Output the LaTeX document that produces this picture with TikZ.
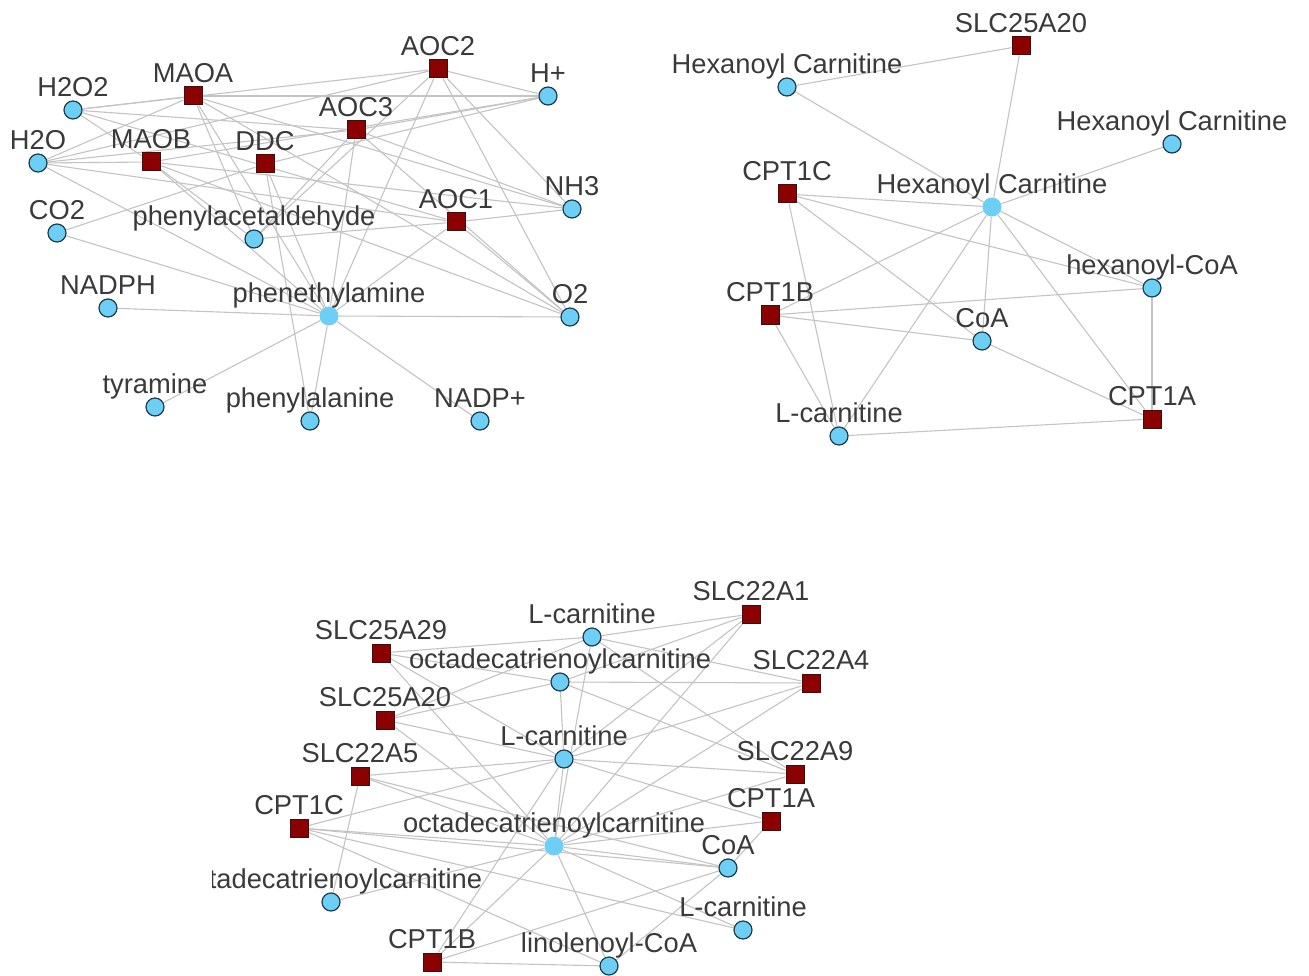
\documentclass[tikz,border=0pt]{standalone}
\usepackage{fontspec}
\setmainfont{Liberation Sans}
\usetikzlibrary{backgrounds}
\definecolor{metfill}{HTML}{6DCFF6}
\definecolor{metdraw}{HTML}{1E3C4C}
\definecolor{genefill}{HTML}{8B0000}
\definecolor{genedraw}{HTML}{3A1010}
\definecolor{edgecol}{HTML}{C4C4C4}
\definecolor{txtcol}{HTML}{3A3A3A}
\tikzset{
  met/.style={circle,fill=metfill,draw=metdraw,line width=1.2pt,minimum size=18pt,inner sep=0pt},
  hub/.style={circle,fill=metfill,minimum size=19pt,inner sep=0pt},
  gene/.style={rectangle,fill=genefill,draw=genedraw,line width=1pt,minimum size=18pt,inner sep=0pt},
  lbl/.style={anchor=base,inner sep=0pt,text=txtcol,font=\fontsize{27.3}{30}\selectfont},
  edge/.style={draw=edgecol,line width=1.1pt}
}
\newcommand{\mnode}[5]{\node[#1] (#2) at (#3pt,-#4pt) {};\node[lbl] (#2l) at ([yshift=13.5pt]#2.center) {#5};}
\begin{document}
\begin{tikzpicture}[x=1pt,y=1pt]
\useasboundingbox (0,0) rectangle (1309,-976);
% ---------- cluster 1 ----------
\mnode{met}{h2o2}{73}{110}{H2O2}
\mnode{gene}{maoa}{193}{96}{MAOA}
\mnode{gene}{aoc2}{438}{69}{AOC2}
\mnode{met}{hp}{548}{96}{H+}
\mnode{gene}{aoc3}{356}{130}{AOC3}
\mnode{met}{h2o}{38}{163}{H2O}
\mnode{gene}{maob}{151}{162}{MAOB}
\mnode{gene}{ddc}{265}{164}{DDC}
\mnode{met}{nh3}{572}{209}{NH3}
\mnode{met}{co2}{57}{233}{CO2}
\mnode{met}{pal}{254}{239}{phenylacetaldehyde}
\mnode{gene}{aoc1}{456}{222}{AOC1}
\mnode{met}{nadph}{108}{308}{NADPH}
\mnode{hub}{pea}{329}{316}{phenethylamine}
\mnode{met}{o2}{570}{317}{O2}
\mnode{met}{tyr}{155}{407}{tyramine}
\mnode{met}{phe}{310}{421}{phenylalanine}
\mnode{met}{nadpp}{480}{421}{NADP+}
% ---------- cluster 2 ----------
\mnode{gene}{bslc}{1021}{46}{SLC25A20}
\mnode{met}{bhc1}{787}{87}{Hexanoyl Carnitine}
\mnode{met}{bhc2}{1172}{144}{Hexanoyl Carnitine}
\mnode{gene}{bcpt1c}{787}{194}{CPT1C}
\mnode{hub}{bhc}{992}{207}{Hexanoyl Carnitine}
\mnode{met}{bhcoa}{1152}{288}{hexanoyl-CoA}
\mnode{gene}{bcpt1b}{770}{315}{CPT1B}
\mnode{met}{bcoa}{982}{341}{CoA}
\mnode{gene}{bcpt1a}{1152}{419}{CPT1A}
\mnode{met}{blc}{839}{436}{L-carnitine}
% ---------- cluster 3 ----------
\mnode{gene}{cslc1}{751}{614}{SLC22A1}
\mnode{met}{clc1}{592}{637}{L-carnitine}
\mnode{gene}{cslc29}{381}{653}{SLC25A29}
\mnode{met}{coc1}{560}{682}{octadecatrienoylcarnitine}
\mnode{gene}{cslc4}{811}{683}{SLC22A4}
\mnode{gene}{cslc20}{385}{720}{SLC25A20}
\mnode{met}{clc2}{564}{759}{L-carnitine}
\mnode{gene}{cslc5}{360}{776}{SLC22A5}
\mnode{gene}{cslc9}{795}{774}{SLC22A9}
\mnode{gene}{ccpt1c}{299}{828}{CPT1C}
\mnode{gene}{ccpt1a}{771}{821}{CPT1A}
\mnode{hub}{coc}{554}{846}{octadecatrienoylcarnitine}
\mnode{met}{ccoa}{728}{868}{CoA}
\node[met] (coc2) at (331pt,-902pt) {};
\begin{scope}
\clip (212,-868) rectangle (500,-897);
\node[lbl] (coc2l) at ([yshift=13.5pt]coc2.center) {octadecatrienoylcarnitine};
\end{scope}
\mnode{met}{clc3}{743}{930}{L-carnitine}
\mnode{gene}{ccpt1b}{432}{962}{CPT1B}
\mnode{met}{clin}{609}{966}{linolenoyl-CoA}
% ---------- edges ----------
\begin{scope}[on background layer]
\fill[white] (0,0) rectangle (1309,-976);
\foreach \g in {maoa,maob,aoc2,aoc3}{
  \foreach \m in {h2o2,h2o,o2,nh3,hp,pea,pal}{ \draw[edge] (\g) -- (\m); }
}
\foreach \m in {h2o2,h2o,o2,nh3,pea,pal}{ \draw[edge] (aoc1) -- (\m); }
\foreach \m in {co2,hp,pea,phe}{ \draw[edge] (ddc) -- (\m); }
\foreach \m in {nadph,o2,nadpp,tyr,phe,co2,h2o}{ \draw[edge] (pea) -- (\m); }
% cluster 2
\draw[edge] (bhc1) -- (bslc);
\draw[edge] (bhc1) -- (bhc);
\draw[edge] (bslc) -- (bhc);
\draw[edge] (bhc2) -- (bhc);
\foreach \m in {bhc,bhcoa,bcoa,blc}{ \draw[edge] (bcpt1c) -- (\m); }
\foreach \m in {bcpt1b,blc,bcoa,bhcoa,bcpt1a}{ \draw[edge] (bhc) -- (\m); }
\foreach \m in {bhcoa,bcoa,blc}{ \draw[edge] (bcpt1b) -- (\m); }
\draw[edge] (bcoa) -- (bcpt1a);
\draw[edge] (bhcoa) -- (bcpt1a);
\draw[edge] (blc) -- (bcpt1a);
% cluster 3
\foreach \m in {clc1,coc1,clc2,coc}{ \draw[edge] (cslc29) -- (\m); }
\foreach \m in {clc1,coc1,clc2,coc}{ \draw[edge] (cslc20) -- (\m); }
\foreach \m in {clc2,coc,coc2,ccoa}{ \draw[edge] (cslc5) -- (\m); }
\foreach \m in {clc2,coc,ccoa,clin,clc3}{ \draw[edge] (ccpt1c) -- (\m); }
\foreach \m in {clc1,coc1,clc2,coc}{ \draw[edge] (cslc1) -- (\m); }
\foreach \m in {clc1,coc1,clc2,coc}{ \draw[edge] (cslc4) -- (\m); }
\foreach \m in {clc1,coc1,clc2,coc}{ \draw[edge] (cslc9) -- (\m); }
\foreach \m in {clc2,coc,ccoa}{ \draw[edge] (ccpt1a) -- (\m); }
\foreach \m in {clin,ccoa,clc2,coc}{ \draw[edge] (ccpt1b) -- (\m); }
\foreach \m in {clc2,ccoa,clc3,clin,coc2,clc1}{ \draw[edge] (coc) -- (\m); }
\draw[edge] (ccoa) -- (clin);
\draw[edge] (coc1) -- (clc2);
\end{scope}
\end{tikzpicture}
\end{document}
